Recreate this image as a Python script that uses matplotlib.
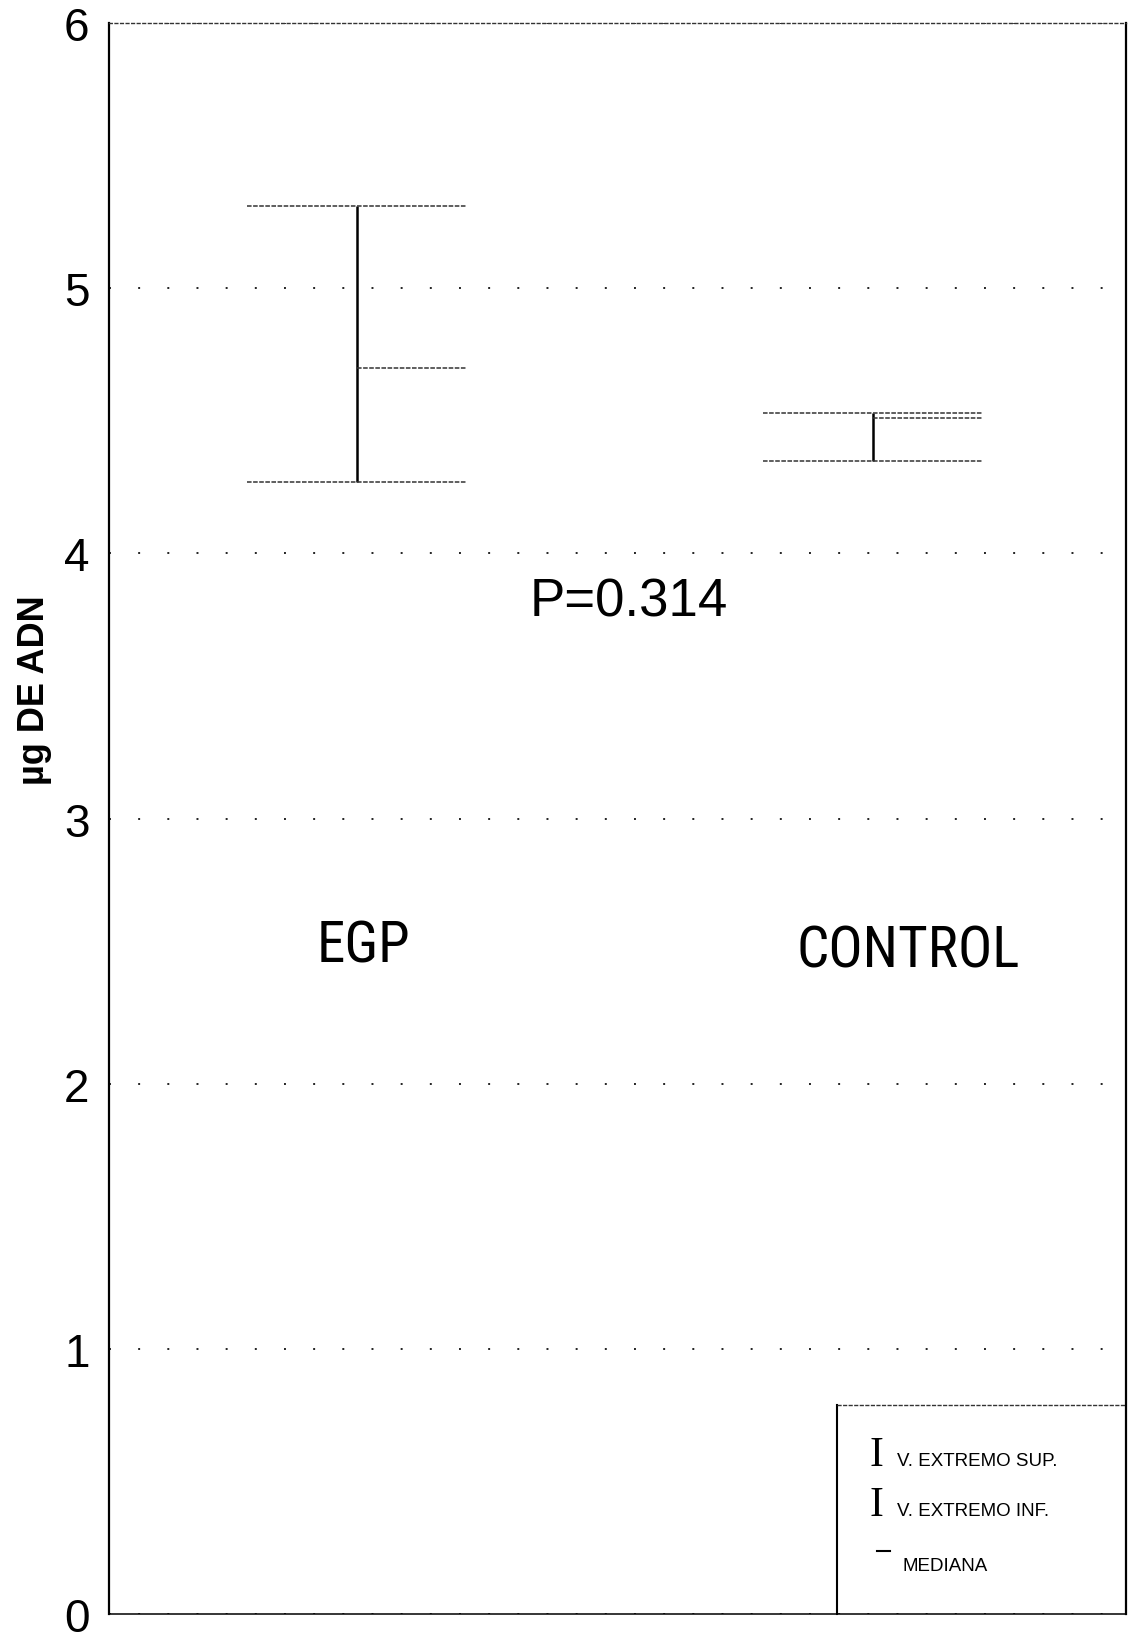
import matplotlib
matplotlib.use("Agg")
import matplotlib.pyplot as plt

# Data
groups = ["EGP", "CONTROL"]
upper = [5.31, 4.53]    # V. extremo sup.
median = [4.70, 4.51]
lower = [4.27, 4.35]    # V. extremo inf.
p_text = "P=0.314"
yticks = [0, 1, 2, 3, 4, 5, 6]

# layout
xpos = [0.244, 0.751]
half = 0.108
label_pos = [(0.25, 2.52), (0.786, 2.50)]

plt.rcParams['font.family'] = ['Liberation Sans', 'DejaVu Sans']
narrow = ['Roboto Condensed', 'Liberation Sans', 'DejaVu Sans']
serif = ['Liberation Serif', 'DejaVu Serif']

fig = plt.figure(figsize=(11.38, 16.40), dpi=100)
ax = fig.add_axes([0.0958, 0.01524, 0.8937, 0.9701])
ax.set_xlim(0, 1)
ax.set_ylim(0, 6)

# -----------------------------
# spines / grid
# -----------------------------
ax.spines['left'].set_linewidth(1.6)
ax.spines['right'].set_linewidth(1.6)
ax.spines['top'].set_linewidth(1.0)
ax.spines['top'].set_linestyle((0, (2, 2)))
ax.spines['top'].set_color('#333333')
ax.spines['bottom'].set_linewidth(1.1)
ax.spines['bottom'].set_linestyle((0, (3, 1)))

ax.set_xticks([])
ax.set_yticks(yticks)
ax.set_yticklabels([str(t) for t in yticks])
ax.tick_params(axis='y', length=0, pad=14, labelsize=33)
ax.yaxis.grid(True, linestyle=(0, (1, 14)), linewidth=1.4, color='#222222')
ax.set_axisbelow(True)

# -----------------------------
# whiskers
# -----------------------------
for x, u, m, l in zip(xpos, upper, median, lower):
    ax.vlines(x, l, u, color='black', linewidth=1.8)
    ax.hlines([u, l], x - half, x + half, color='#333333', linewidth=1.1,
              linestyle=(0, (3, 1)))
    ax.hlines(m, x, x + half, color='#333333', linewidth=1.1,
              linestyle=(0, (3, 1)))

for g, (tx, ty) in zip(groups, label_pos):
    ax.text(tx, ty, g, ha='center', va='center', fontsize=41, family=narrow)
ax.text(0.511, 3.82, p_text, ha='center', va='center', fontsize=38)

fig.text(0.03, 0.579, "µg DE ADN", rotation=90, ha='center', va='center',
         fontsize=26, fontweight='bold')

# -----------------------------
# legend box
# -----------------------------
ax.plot([0.716, 0.716], [0, 0.79], color='black', linewidth=1.5, clip_on=False)
ax.plot([0.716, 1.0], [0.79, 0.79], color='#333333', linewidth=1.0,
        linestyle=(0, (3, 1)), clip_on=False)
ax.text(0.755, 0.562, "I", ha='center', va='baseline', fontsize=30, family=serif)
ax.text(0.775, 0.562, "V. EXTREMO SUP.", ha='left', va='baseline', fontsize=13.5)
ax.text(0.755, 0.372, "I", ha='center', va='baseline', fontsize=30, family=serif)
ax.text(0.775, 0.372, "V. EXTREMO INF.", ha='left', va='baseline', fontsize=13.5)
ax.plot([0.755, 0.768], [0.237, 0.237], color='black', linewidth=1.5)
ax.text(0.78, 0.167, "MEDIANA", ha='left', va='baseline', fontsize=13.5)

plt.savefig("out.png", dpi=100)
plt.close()
